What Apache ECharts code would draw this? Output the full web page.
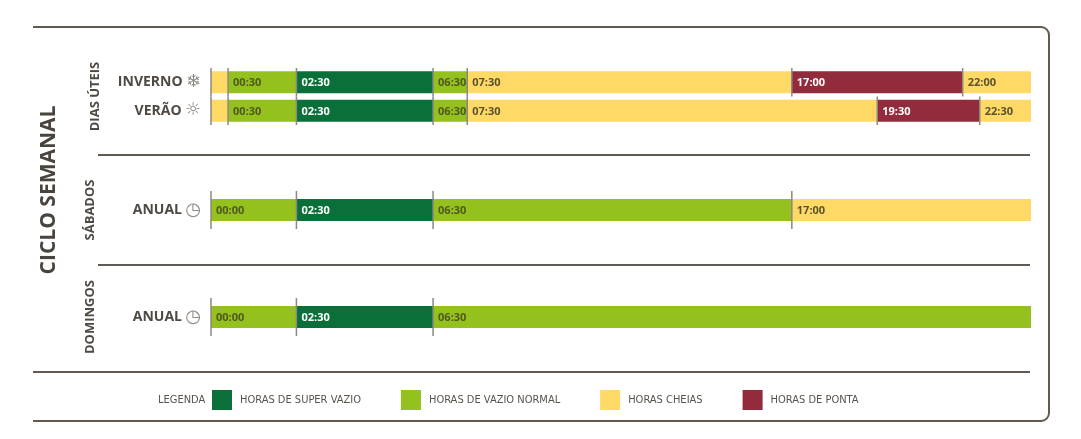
<!DOCTYPE html>
<html>
<head>
<meta charset="UTF-8" />
<title>Ciclo semanal</title>
<script src="https://cdn.jsdelivr.net/npm/echarts@6/dist/echarts.min.js"></script>
<style>
  body { margin: 0; background: #fff; }
  #chart { width: 1081px; height: 439px; }
</style>
</head>
<body>
<div id="chart"></div>
<script>
// tipos de horário (ordem da legenda)
var tipos = ['HORAS DE SUPER VAZIO', 'HORAS DE VAZIO NORMAL', 'HORAS CHEIAS', 'HORAS DE PONTA']
var cores = ['#0a6f38', '#95c11f', '#fed966', '#922b3b']
var coresTexto = ['#ffffff', '#505820', '#5a5230', '#ffffff']

// secções e linhas
var seccoes = ['DIAS ÚTEIS', 'SÁBADOS', 'DOMINGOS']
var linhasDiasUteis = ['INVERNO', 'VERÃO']
var linhasSabado = ['ANUAL']
var linhasDomingo = ['ANUAL']

// início de cada período (horas) e o tipo correspondente
var inicioInverno = [0, 0.5, 2.5, 6.5, 7.5, 17, 22]
var tipoInverno = [2, 1, 0, 1, 2, 3, 2]
var inicioVerao = [0, 0.5, 2.5, 6.5, 7.5, 19.5, 22.5]
var tipoVerao = [2, 1, 0, 1, 2, 3, 2]
var inicioSabado = [0, 2.5, 6.5, 17]
var tipoSabado = [1, 0, 1, 2]
var inicioDomingo = [0, 2.5, 6.5]
var tipoDomingo = [1, 0, 1]

var icones = { 'INVERNO': '❄', 'VERÃO': '☼', 'ANUAL': '◷' }

function hhmm(h) {
  var hh = Math.floor(h), mm = Math.round((h - hh) * 60)
  return (hh < 10 ? '0' : '') + hh + ':' + (mm < 10 ? '0' : '') + mm
}

// constrói os segmentos [inicio, fim, linha, etiqueta] por tipo
function segmentos(inicios, tiposLinha, linha, porTipo) {
  for (var i = 0; i < inicios.length; i++) {
    var fim = i + 1 < inicios.length ? inicios[i + 1] : 24
    porTipo[tiposLinha[i]].push([inicios[i], fim, linha, hhmm(inicios[i])])
  }
}

var gruposDados = [[[], [], [], []], [[], [], [], []], [[], [], [], []]]
segmentos(inicioInverno, tipoInverno, 0, gruposDados[0])
segmentos(inicioVerao, tipoVerao, 1, gruposDados[0])
segmentos(inicioSabado, tipoSabado, 0, gruposDados[1])
segmentos(inicioDomingo, tipoDomingo, 0, gruposDados[2])

var linhasPorGrid = [linhasDiasUteis, linhasSabado, linhasDomingo]
var gridTops = [68, 191, 298]
var gridHeights = [57, 38, 38]
var nameGaps = [109, 114, 114]

function renderSeg(tipo) {
  return function (params, api) {
    var s = api.coord([api.value(0), api.value(2)])
    var e = api.coord([api.value(1), api.value(2)])
    var band = api.size([0, 1])[1]
    var w = e[0] - s[0]
    var children = [
      {
        type: 'rect',
        shape: { x: s[0], y: s[1] - 11, width: w, height: 22 },
        style: { fill: cores[tipo] }
      },
      {
        type: 'line',
        z2: 20,
        shape: { x1: s[0], y1: s[1] - band / 2, x2: s[0], y2: s[1] + band / 2 },
        style: { stroke: '#8c8780', lineWidth: 1.5 }
      }
    ]
    if (w > 32) {
      children.push({
        type: 'text',
        z2: 21,
        style: {
          x: s[0] + 5, y: s[1] + 1,
          text: api.value(3),
          fill: coresTexto[tipo],
          font: 'bold 11px "Open Sans", sans-serif',
          verticalAlign: 'middle'
        }
      })
    }
    return { type: 'group', children: children }
  }
}

var grids = [], xAxes = [], yAxes = [], series = []
for (var g = 0; g < 3; g++) {
  grids.push({ left: 211, right: 50, top: gridTops[g], height: gridHeights[g] })
  xAxes.push({ type: 'value', gridIndex: g, min: 0, max: 24, show: false })
  yAxes.push({
    type: 'category',
    gridIndex: g,
    inverse: true,
    data: linhasPorGrid[g],
    name: seccoes[g],
    nameLocation: 'middle',
    nameRotate: 90,
    nameGap: nameGaps[g],
    nameTextStyle: { fontFamily: 'Open Sans', fontWeight: 'bold', fontSize: 13, color: '#4f4943' },
    axisLine: { show: false },
    axisTick: { show: false },
    splitLine: { show: false },
    axisLabel: {
      margin: 10,
      formatter: function (v) { return '{n|' + v + '} {i|' + icones[v] + '}' },
      rich: {
        n: { fontFamily: 'Open Sans', fontWeight: 'bold', fontSize: 14, color: '#4f4943' },
        i: { fontFamily: 'DejaVu Sans', fontSize: 18, color: '#8f8a84' }
      }
    }
  })
  for (var t = 0; t < 4; t++) {
    series.push({
      type: 'custom',
      name: tipos[t],
      xAxisIndex: g,
      yAxisIndex: g,
      itemStyle: { color: cores[t] },
      encode: { x: [0, 1], y: 2 },
      renderItem: renderSeg(t),
      data: gruposDados[g][t]
    })
  }
}

var corLinha = '#625a51'
var chart = echarts.init(document.getElementById('chart'))
chart.setOption({
  animation: false,
  grid: grids,
  xAxis: xAxes,
  yAxis: yAxes,
  legend: {
    data: tipos,
    left: 212,
    top: 390,
    padding: 0,
    itemWidth: 20,
    itemHeight: 20,
    itemGap: 40,
    icon: 'rect',
    selectedMode: false,
    textStyle: { fontFamily: '"Liberation Sans Narrow", "DejaVu Sans Condensed", sans-serif', fontSize: 11, color: '#58524c', padding: [0, 0, 0, 3] }
  },
  graphic: [
    { type: 'line', shape: { x1: 33, y1: 27, x2: 1041, y2: 27 }, style: { stroke: corLinha, lineWidth: 2 } },
    { type: 'arc', shape: { cx: 1041, cy: 35, r: 8, startAngle: -Math.PI / 2, endAngle: 0 }, style: { stroke: corLinha, lineWidth: 2, fill: null } },
    { type: 'line', shape: { x1: 1049, y1: 35, x2: 1049, y2: 413 }, style: { stroke: corLinha, lineWidth: 2 } },
    { type: 'arc', shape: { cx: 1041, cy: 413, r: 8, startAngle: 0, endAngle: Math.PI / 2 }, style: { stroke: corLinha, lineWidth: 2, fill: null } },
    { type: 'line', shape: { x1: 1041, y1: 421, x2: 33, y2: 421 }, style: { stroke: corLinha, lineWidth: 2 } },
    { type: 'line', shape: { x1: 98, y1: 155, x2: 1030, y2: 155 }, style: { stroke: corLinha, lineWidth: 2 } },
    { type: 'line', shape: { x1: 98, y1: 265, x2: 1030, y2: 265 }, style: { stroke: corLinha, lineWidth: 2 } },
    { type: 'line', shape: { x1: 33, y1: 372, x2: 1030, y2: 372 }, style: { stroke: corLinha, lineWidth: 2 } },
    {
      type: 'text', x: 49, y: 190, rotation: Math.PI / 2,
      style: { text: 'CICLO SEMANAL', font: 'bold 21px "Open Sans", sans-serif', fill: '#4a443e', align: 'center', verticalAlign: 'middle' }
    },
    {
      type: 'text', x: 158, y: 400,
      style: { text: 'LEGENDA', font: '11px "Liberation Sans Narrow", "DejaVu Sans Condensed", sans-serif', fill: '#58524c', verticalAlign: 'middle' }
    }
  ],
  series: series
})
</script>
</body>
</html>
